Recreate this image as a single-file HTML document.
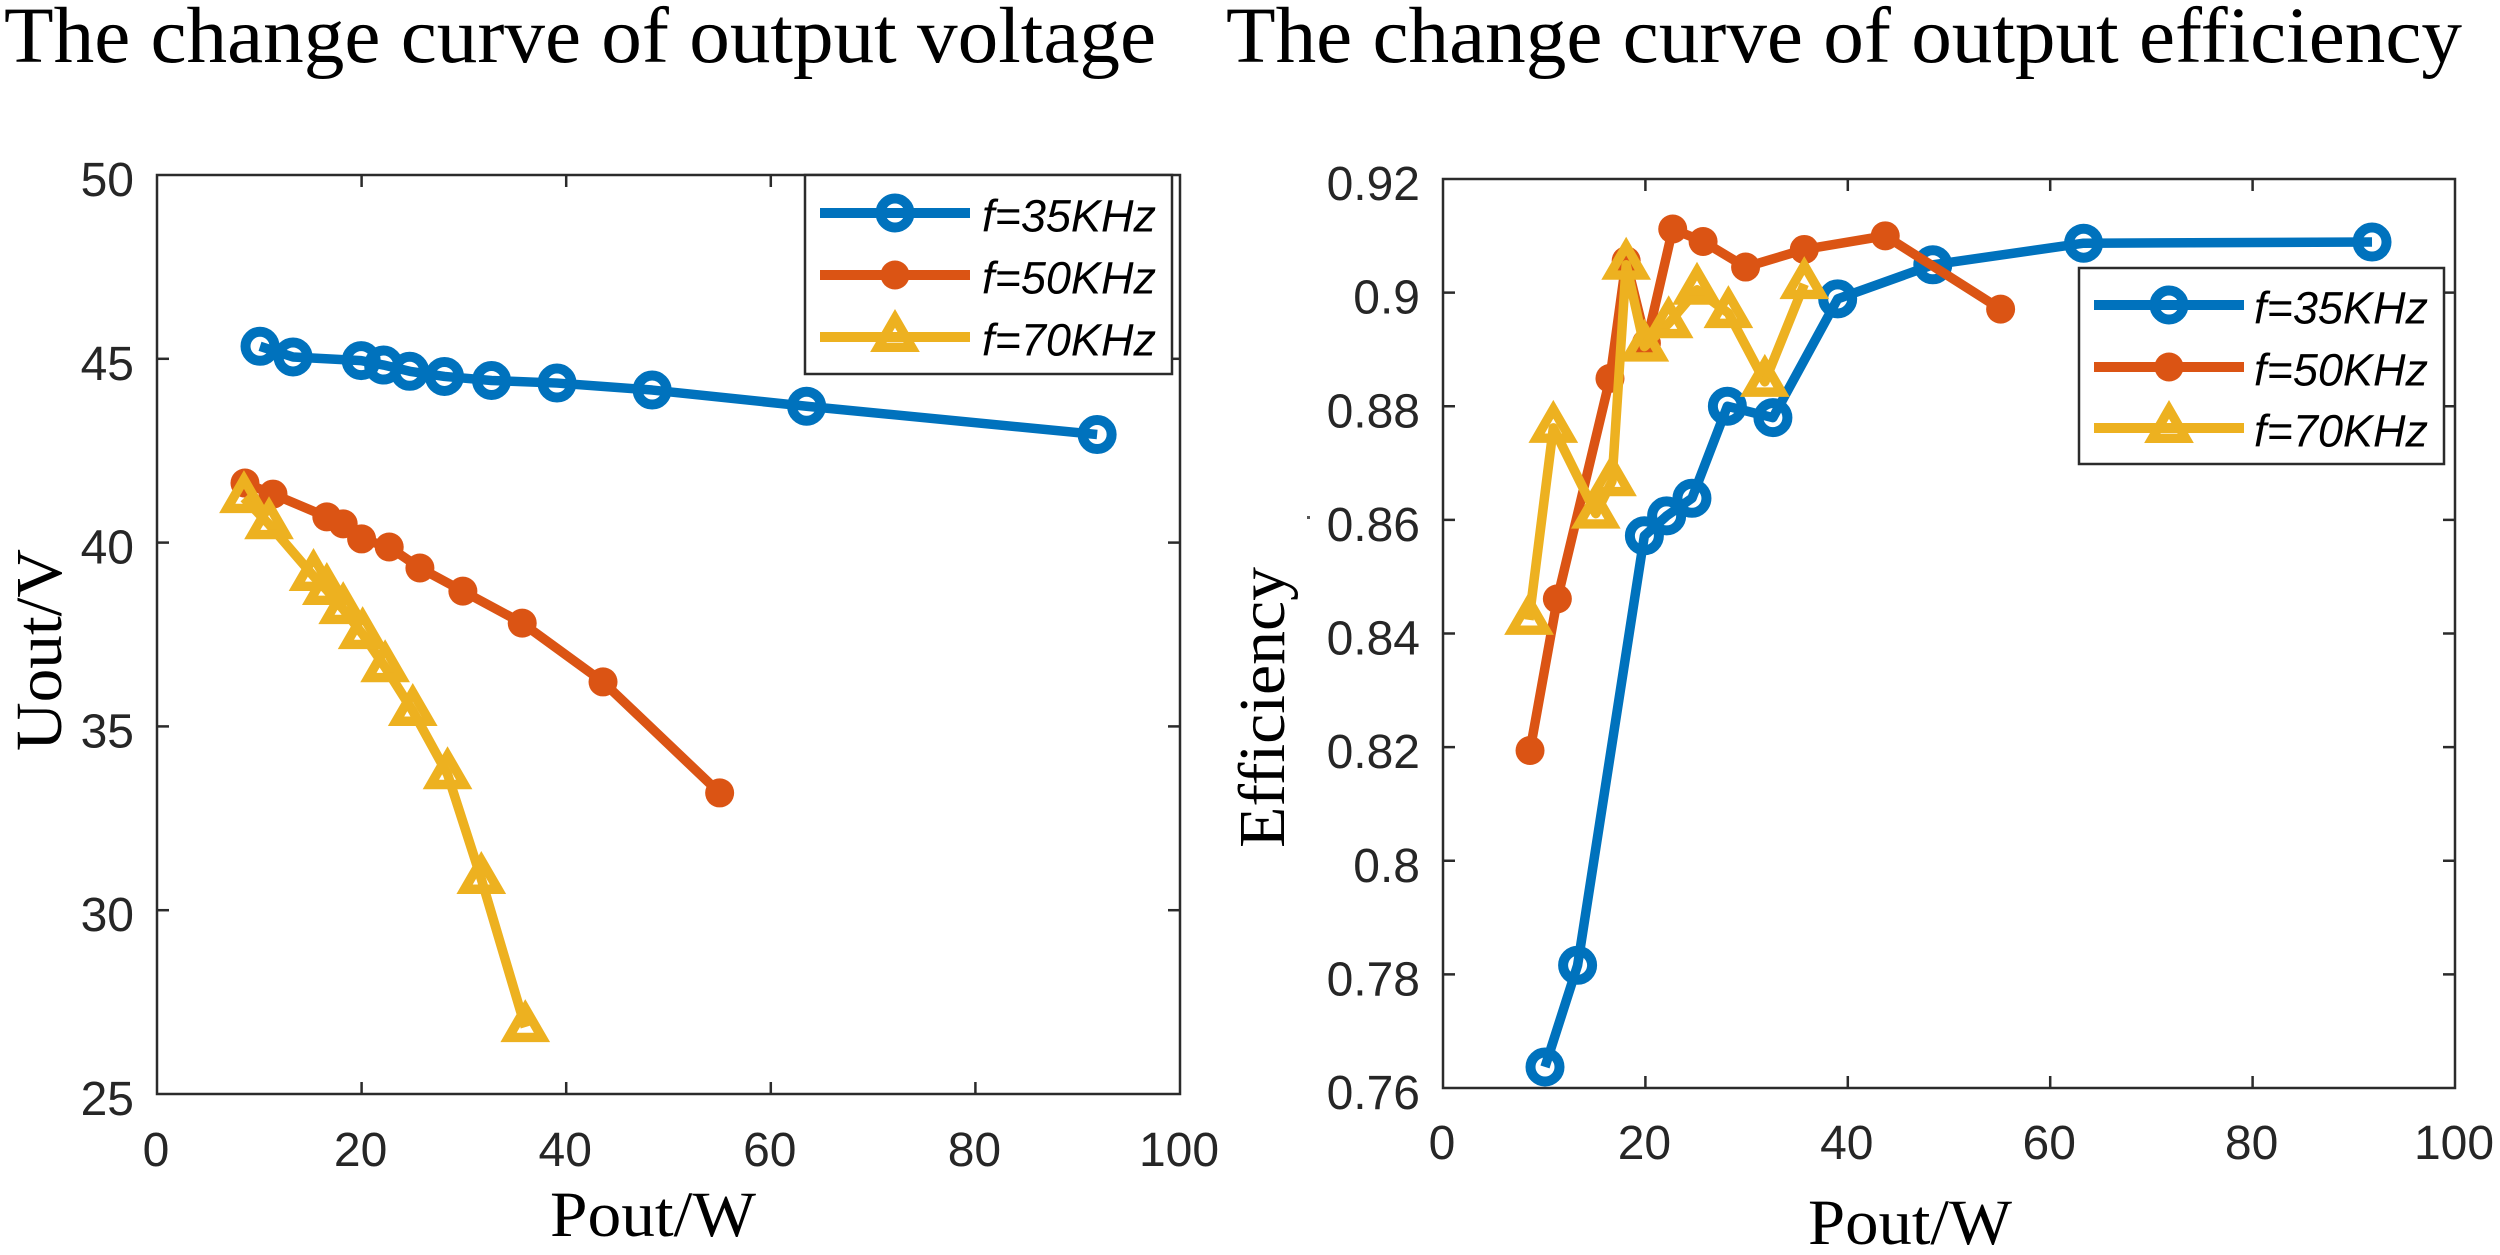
<!DOCTYPE html>
<html>
<head>
<meta charset="utf-8">
<title>Output voltage and efficiency curves</title>
<style>
html,body{margin:0;padding:0;background:#fff;}
svg{display:block;}
.serif{font-family:"Liberation Serif",serif;fill:#000;}
.sans{font-family:"Liberation Sans",sans-serif;fill:#262626;font-size:48px;}
.leg{font-family:"Liberation Sans",sans-serif;fill:#000;font-size:45px;font-style:italic;}
</style>
</head>
<body>
<svg id="figure" xmlns="http://www.w3.org/2000/svg" width="2500" height="1255" viewBox="0 0 2500 1255">
  <rect x="0" y="0" width="2500" height="1255" fill="#fff"/>
  <text class="serif" x="4" y="62" font-size="79" textLength="1152" lengthAdjust="spacingAndGlyphs">The change curve of output voltage</text>
  <text class="serif" x="1226" y="62" font-size="79" textLength="1236" lengthAdjust="spacingAndGlyphs">The change curve of output efficiency</text>
  <text class="serif" x="550" y="1236" font-size="65" textLength="206" lengthAdjust="spacingAndGlyphs">Pout/W</text>
  <text class="serif" x="1808" y="1244" font-size="65" textLength="204" lengthAdjust="spacingAndGlyphs">Pout/W</text>
  <text class="serif" transform="translate(61,751) rotate(-90)" font-size="66" textLength="202" lengthAdjust="spacingAndGlyphs">Uout/V</text>
  <text class="serif" transform="translate(1284,848) rotate(-90)" font-size="66" textLength="281" lengthAdjust="spacingAndGlyphs">Efficiency</text>
  <rect x="1307" y="516" width="3" height="3" fill="#555"/>
  <g id="voltage-chart"></g>
  <g id="efficiency-chart"></g>
</svg>
<script>
const seriesNames = ['f=35KHz', 'f=50KHz', 'f=70KHz'];
const seriesColors = ['#0072bd', '#db5414', '#edb120'];
const seriesKeys = ['35khz', '50khz', '70khz'];

const xTicks = [0, 20, 40, 60, 80, 100];
const xTickLabels = ['0', '20', '40', '60', '80', '100'];
const voltageTicks = [25, 30, 35, 40, 45, 50];
const voltageTickLabels = ['25', '30', '35', '40', '45', '50'];
const efficiencyTicks = [0.76, 0.78, 0.8, 0.82, 0.84, 0.86, 0.88, 0.9, 0.92];
const efficiencyTickLabels = ['0.76', '0.78', '0.8', '0.82', '0.84', '0.86', '0.88', '0.9', '0.92'];

const voltagePower35 = [10.07, 13.3, 19.96, 22.15, 24.7, 28.1, 32.7, 39.1, 48.4, 63.5, 91.9];
const voltageValues35 = [45.34, 45.05, 44.95, 44.83, 44.66, 44.52, 44.41, 44.34, 44.15, 43.71, 42.94];
const voltagePower50 = [8.6, 11.34, 16.6, 18.2, 20, 22.7, 25.7, 29.9, 35.7, 43.6, 55];
const voltageValues50 = [41.62, 41.32, 40.7, 40.51, 40.1, 39.88, 39.31, 38.68, 37.81, 36.21, 33.19];
const voltagePower70 = [8.5, 10.95, 15.3, 16.6, 18.2, 20.1, 22.3, 25, 28.4, 31.7, 36];
const voltageValues70 = [41.21, 40.5, 39.09, 38.71, 38.19, 37.51, 36.61, 35.42, 33.7, 30.85, 26.82];

const effPower35 = [10.08, 13.3, 19.9, 22.1, 24.6, 28.1, 32.6, 39, 48.4, 63.3, 91.8];
const effValues35 = [0.7637, 0.7816, 0.8572, 0.8607, 0.8638, 0.88, 0.878, 0.8989, 0.9049, 0.9087, 0.9089];
const effPower50 = [8.6, 11.3, 16.5, 18.1, 20.1, 22.7, 25.7, 29.9, 35.7, 43.7, 55.1];
const effValues50 = [0.8194, 0.8461, 0.8849, 0.9056, 0.8911, 0.9112, 0.909, 0.9045, 0.9076, 0.91, 0.8971];
const effPower70 = [8.5, 10.9, 15.1, 16.7, 18.1, 19.9, 22.3, 25.1, 28.2, 31.8, 35.7];
const effValues70 = [0.8424, 0.8762, 0.8611, 0.8668, 0.9049, 0.8905, 0.8946, 0.9005, 0.8964, 0.8843, 0.9015];

const SVGNS = 'http://www.w3.org/2000/svg';
const INK = '#2b2b2b';

function mk(tag, parent) {
  const el = document.createElementNS(SVGNS, tag);
  parent.appendChild(el);
  return el;
}

function drawMarker(parent, kind, color, cx, cy, prefix) {
  if (kind === 0) {
    const c = mk('circle', parent);
    
    
    c.setAttribute('cx', cx);
    c.setAttribute('cy', cy);
    c.setAttribute('r', 14.5);
    c.setAttribute('fill', 'none');
    c.setAttribute('stroke', color);
    c.setAttribute('stroke-width', 10);
  } else if (kind === 1) {
    const c = mk('circle', parent);
    
    
    c.setAttribute('cx', cx);
    c.setAttribute('cy', cy);
    c.setAttribute('r', 14.5);
    c.setAttribute('fill', color);
  } else {
    const t = mk('polygon', parent);
    
    
    t.setAttribute('points', cx + ',' + (cy - 18.6) + ' ' + (cx + 16.7) + ',' + (cy + 10.3) + ' ' + (cx - 16.7) + ',' + (cy + 10.3));
    t.setAttribute('fill', 'none');
    t.setAttribute('stroke', color);
    t.setAttribute('stroke-width', 9.4);
    t.setAttribute('stroke-linejoin', 'miter');
  }
}

function drawChart(opts) {
  const g = document.getElementById(opts.id);
  const box = opts.box;
  const sx = v => box.left + (v - 0) / 100 * (box.right - box.left);
  const sy = v => box.bottom - (v - opts.yMin) / (opts.yMax - opts.yMin) * (box.bottom - box.top);

  const frame = mk('rect', g);
  
  
  frame.setAttribute('x', box.left);
  frame.setAttribute('y', box.top);
  frame.setAttribute('width', box.right - box.left);
  frame.setAttribute('height', box.bottom - box.top);
  frame.setAttribute('fill', 'none');
  frame.setAttribute('stroke', INK);
  frame.setAttribute('stroke-width', 2.5);

  xTicks.forEach((v, i) => {
    if (i > 0 && i < xTicks.length - 1) {
      const a = mk('line', g);
      
      
      a.setAttribute('x1', sx(v));
      a.setAttribute('x2', sx(v));
      a.setAttribute('y1', box.bottom);
      a.setAttribute('y2', box.bottom - 12);
      a.setAttribute('stroke', INK);
      a.setAttribute('stroke-width', 2.5);
      const b = mk('line', g);
      
      
      b.setAttribute('x1', sx(v));
      b.setAttribute('x2', sx(v));
      b.setAttribute('y1', box.top);
      b.setAttribute('y2', box.top + 12);
      b.setAttribute('stroke', INK);
      b.setAttribute('stroke-width', 2.5);
    }
    const t = mk('text', g);
    
    
    t.setAttribute('class', 'sans');
    t.setAttribute('x', sx(v) - 1);
    t.setAttribute('y', opts.xLabelY);
    t.setAttribute('text-anchor', 'middle');
    t.textContent = xTickLabels[i];
  });

  opts.yTicks.forEach((v, i) => {
    if (i > 0 && i < opts.yTicks.length - 1) {
      const a = mk('line', g);
      
      
      a.setAttribute('x1', box.left);
      a.setAttribute('x2', box.left + 12);
      a.setAttribute('y1', sy(v));
      a.setAttribute('y2', sy(v));
      a.setAttribute('stroke', INK);
      a.setAttribute('stroke-width', 2.5);
      const b = mk('line', g);
      
      
      b.setAttribute('x1', box.right);
      b.setAttribute('x2', box.right - 12);
      b.setAttribute('y1', sy(v));
      b.setAttribute('y2', sy(v));
      b.setAttribute('stroke', INK);
      b.setAttribute('stroke-width', 2.5);
    }
    const t = mk('text', g);
    
    
    t.setAttribute('class', 'sans');
    t.setAttribute('x', box.left - 23);
    t.setAttribute('y', sy(v) + 21);
    t.setAttribute('text-anchor', 'end');
    t.textContent = opts.yLabels[i];
  });

  opts.series.forEach((s, k) => {
    const sg = mk('g', g);
    
    
    const pts = s.x.map((xv, i) => sx(xv) + ',' + sy(s.y[i])).join(' ');
    const line = mk('polyline', sg);
    
    
    line.setAttribute('points', pts);
    line.setAttribute('fill', 'none');
    line.setAttribute('stroke', seriesColors[k]);
    line.setAttribute('stroke-width', 9.5);
    line.setAttribute('stroke-linejoin', 'round');
    s.x.forEach((xv, i) => {
      drawMarker(sg, k, seriesColors[k], sx(xv), sy(s.y[i]), 'point-' + seriesKeys[k]);
    });
  });

  const L = opts.legend;
  const lg = mk('g', g);
  
  
  const lb = mk('rect', lg);
  
  
  lb.setAttribute('x', L.x);
  lb.setAttribute('y', L.y);
  lb.setAttribute('width', L.w);
  lb.setAttribute('height', L.h);
  lb.setAttribute('fill', '#fff');
  lb.setAttribute('stroke', INK);
  lb.setAttribute('stroke-width', 2.5);
  seriesNames.forEach((name, k) => {
    const eg = mk('g', lg);
    
    
    const ly = L.rows[k];
    const ll = mk('line', eg);
    
    
    ll.setAttribute('x1', L.lineX1);
    ll.setAttribute('x2', L.lineX2);
    ll.setAttribute('y1', ly);
    ll.setAttribute('y2', ly);
    ll.setAttribute('stroke', seriesColors[k]);
    ll.setAttribute('stroke-width', 10);
    drawMarker(eg, k, seriesColors[k], (L.lineX1 + L.lineX2) / 2, ly, 'legend-' + seriesKeys[k]);
    const lt = mk('text', eg);
    
    
    lt.setAttribute('class', 'leg');
    lt.setAttribute('x', L.textX);
    lt.setAttribute('y', ly + 18.5);
    lt.setAttribute('textLength', 174);
    lt.setAttribute('lengthAdjust', 'spacingAndGlyphs');
    lt.textContent = name;
  });
}

drawChart({
  id: 'voltage-chart',
  box: {left: 157, right: 1180, top: 175, bottom: 1094},
  yMin: 25, yMax: 50,
  yTicks: voltageTicks,
  yLabels: voltageTickLabels,
  xLabelY: 1166,
  series: [
    {x: voltagePower35, y: voltageValues35},
    {x: voltagePower50, y: voltageValues50},
    {x: voltagePower70, y: voltageValues70}
  ],
  legend: {x: 805, y: 175, w: 367, h: 199, rows: [213, 275, 337], lineX1: 820, lineX2: 970, textX: 982}
});

drawChart({
  id: 'efficiency-chart',
  box: {left: 1443, right: 2455, top: 179, bottom: 1088},
  yMin: 0.76, yMax: 0.92,
  yTicks: efficiencyTicks,
  yLabels: efficiencyTickLabels,
  xLabelY: 1159,
  series: [
    {x: effPower35, y: effValues35},
    {x: effPower50, y: effValues50},
    {x: effPower70, y: effValues70}
  ],
  legend: {x: 2079, y: 268, w: 365, h: 196, rows: [305, 367, 428], lineX1: 2094, lineX2: 2244, textX: 2254}
});
</script>
</body>
</html>
